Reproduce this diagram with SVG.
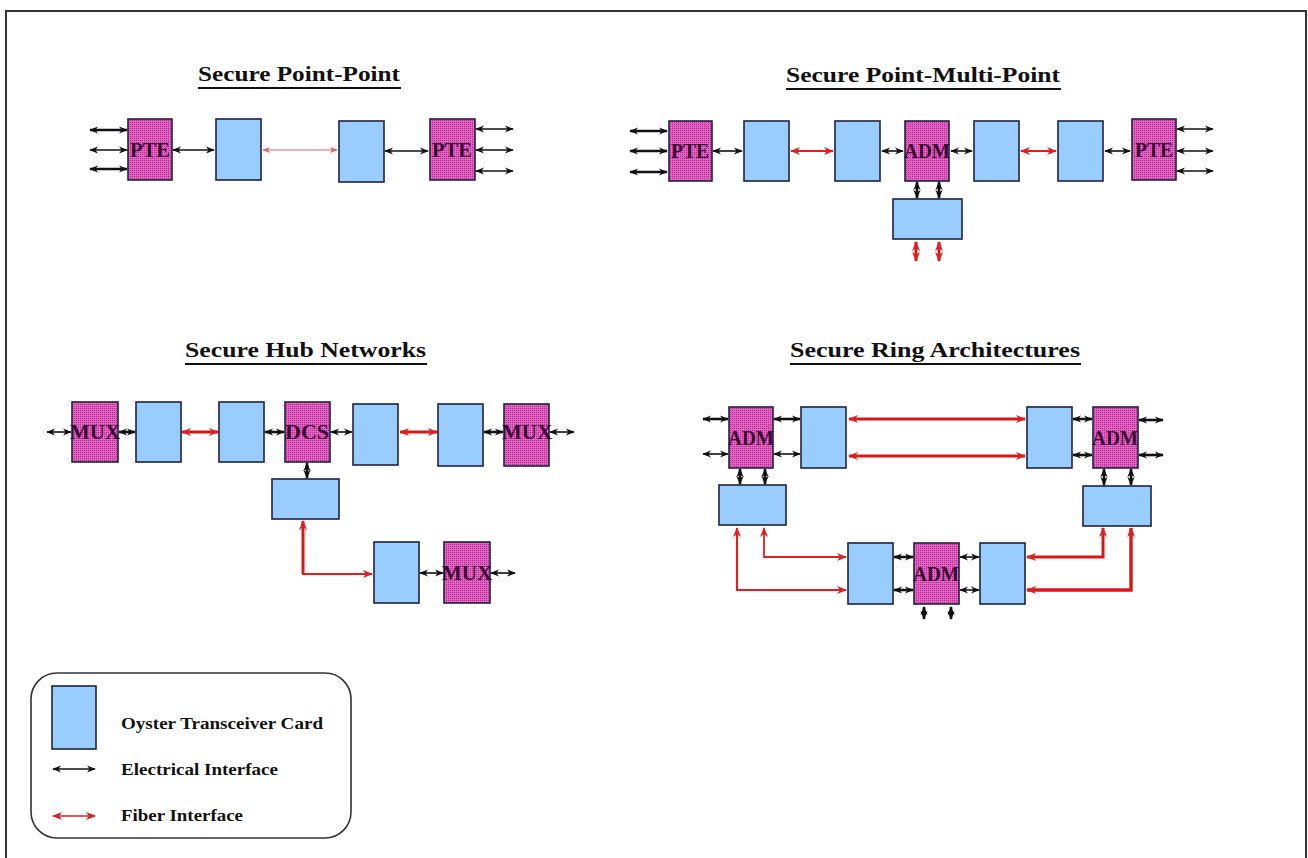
<svg xmlns="http://www.w3.org/2000/svg" width="1308" height="858" viewBox="0 0 1308 858">
<style>
.blue{fill:#99ccff;stroke:#1e2240;stroke-width:1.6}
.pink{fill:url(#hatch);stroke:#1e2240;stroke-width:1.6}
.lbl{font-family:"Liberation Serif","Times New Roman",serif;font-weight:bold;font-size:21px;fill:#3a0030;text-anchor:middle}
.title{font-family:"Liberation Serif","Times New Roman",serif;font-weight:bold;font-size:21px;fill:#111}
.leg{font-family:"Liberation Serif","Times New Roman",serif;font-weight:bold;font-size:17px;fill:#111}
.ul{stroke:#111;stroke-width:2}
.e{stroke:#111;stroke-width:1.6;fill:none;marker-start:url(#ab);marker-end:url(#ab)}
.et{stroke:#111;stroke-width:2.6;fill:none;marker-start:url(#ab);marker-end:url(#ab)}
.f{stroke:#e02020;stroke-width:2.2;fill:none;marker-start:url(#ar);marker-end:url(#ar)}
.ft{stroke:#d81818;stroke-width:3;fill:none;marker-start:url(#ar);marker-end:url(#ar)}
.fthin{stroke:#e06060;stroke-width:1.2;fill:none;marker-start:url(#arl);marker-end:url(#arl)}
</style>
<defs>
<pattern id="hatch" width="2" height="2" patternUnits="userSpaceOnUse">
<rect width="2" height="2" fill="#e862c6"/>
<rect width="1" height="1" fill="#a42c8a"/>
</pattern>
<marker id="ab" viewBox="0 0 10 10" refX="9" refY="5" markerWidth="9" markerHeight="9" markerUnits="userSpaceOnUse" orient="auto-start-reverse">
<path d="M0,1 L10,5 L0,9 L3,5 z" fill="#111"/>
</marker>
<marker id="ar" viewBox="0 0 10 10" refX="9" refY="5" markerWidth="10" markerHeight="10" markerUnits="userSpaceOnUse" orient="auto-start-reverse">
<path d="M0,1 L10,5 L0,9 L3,5 z" fill="#e02020"/>
</marker>
<marker id="arl" viewBox="0 0 10 10" refX="9" refY="5" markerWidth="8" markerHeight="8" markerUnits="userSpaceOnUse" orient="auto-start-reverse">
<path d="M0,1 L10,5 L0,9 L3,5 z" fill="#e06060"/>
</marker>
</defs>
<rect x="0" y="0" width="1308" height="858" fill="#fff"/>
<rect x="6" y="11" width="1300" height="860" fill="none" stroke="#333" stroke-width="2"/>

<!-- Titles -->
<g id="titles">
<text class="title" x="198" y="81" textLength="202" lengthAdjust="spacingAndGlyphs">Secure Point-Point</text>
<line class="ul" x1="198" y1="88" x2="401" y2="88"/>
<text class="title" x="786" y="82" textLength="274" lengthAdjust="spacingAndGlyphs">Secure Point-Multi-Point</text>
<line class="ul" x1="786" y1="89" x2="1061" y2="89"/>
<text class="title" x="185" y="357" textLength="241" lengthAdjust="spacingAndGlyphs">Secure Hub Networks</text>
<line class="ul" x1="185" y1="364" x2="427" y2="364"/>
<text class="title" x="790" y="357" textLength="290" lengthAdjust="spacingAndGlyphs">Secure Ring Architectures</text>
<line class="ul" x1="790" y1="364" x2="1081" y2="364"/>
</g>

<!-- Connectors -->
<g id="connectors">
<!-- Section 1 -->
<line class="et" x1="90" y1="130" x2="127" y2="130"/>
<line class="e" x1="90" y1="150" x2="127" y2="150"/>
<line class="et" x1="90" y1="169" x2="127" y2="169"/>
<line class="e" x1="173" y1="150" x2="214" y2="150"/>
<line class="fthin" x1="263" y1="150" x2="337" y2="150"/>
<line class="e" x1="385" y1="151" x2="428" y2="151"/>
<line class="e" x1="476" y1="129" x2="513" y2="129"/>
<line class="e" x1="476" y1="150" x2="513" y2="150"/>
<line class="e" x1="476" y1="171" x2="513" y2="171"/>
<!-- Section 2 -->
<line class="et" x1="630" y1="131" x2="667" y2="131"/>
<line class="et" x1="630" y1="151" x2="667" y2="151"/>
<line class="et" x1="630" y1="172" x2="667" y2="172"/>
<line class="e" x1="713" y1="151" x2="742" y2="151"/>
<line class="f" x1="791" y1="151" x2="833" y2="151"/>
<line class="e" x1="882" y1="151" x2="903" y2="151"/>
<line class="e" x1="951" y1="151" x2="972" y2="151"/>
<line class="f" x1="1021" y1="151" x2="1056" y2="151"/>
<line class="e" x1="1105" y1="151" x2="1130" y2="151"/>
<line class="e" x1="1177" y1="129" x2="1213" y2="129"/>
<line class="e" x1="1177" y1="151" x2="1213" y2="151"/>
<line class="e" x1="1177" y1="171" x2="1213" y2="171"/>
<line class="et" x1="917" y1="182" x2="917" y2="198"/>
<line class="et" x1="939" y1="182" x2="939" y2="198"/>
<line class="ft" x1="916" y1="242" x2="916" y2="261"/>
<line class="ft" x1="939" y1="242" x2="939" y2="261"/>
<!-- Section 3 -->
<line class="e" x1="47" y1="432" x2="71" y2="432"/>
<line class="et" x1="119" y1="432" x2="135" y2="432"/>
<line class="ft" x1="182" y1="432" x2="218" y2="432"/>
<line class="et" x1="265" y1="432" x2="284" y2="432"/>
<line class="e" x1="331" y1="432" x2="352" y2="432"/>
<line class="ft" x1="400" y1="432" x2="437" y2="432"/>
<line class="et" x1="484" y1="432" x2="503" y2="432"/>
<line class="e" x1="550" y1="432" x2="574" y2="432"/>
<line class="et" x1="307" y1="463" x2="307" y2="478"/>
<path d="M303,574 V521" stroke="#d81818" stroke-width="3" fill="none" marker-end="url(#ar)"/>
<path d="M302,574 H372" stroke="#e02020" stroke-width="1.8" fill="none" marker-end="url(#ar)"/>
<line class="e" x1="420" y1="573" x2="443" y2="573"/>
<line class="e" x1="491" y1="573" x2="515" y2="573"/>
<!-- Section 4 -->
<line class="et" x1="703" y1="419" x2="728" y2="419"/>
<line class="e" x1="703" y1="454" x2="728" y2="454"/>
<line class="et" x1="774" y1="419" x2="800" y2="419"/>
<line class="e" x1="774" y1="454" x2="800" y2="454"/>
<line class="ft" x1="849" y1="419" x2="1025" y2="419"/>
<line class="ft" x1="849" y1="456" x2="1025" y2="456"/>
<line class="et" x1="1073" y1="419" x2="1092" y2="419"/>
<line class="et" x1="1073" y1="455" x2="1092" y2="455"/>
<line class="et" x1="1139" y1="420" x2="1163" y2="420"/>
<line class="et" x1="1139" y1="455" x2="1163" y2="455"/>
<line class="et" x1="740" y1="469" x2="740" y2="484"/>
<line class="et" x1="765" y1="469" x2="765" y2="484"/>
<line class="et" x1="1104" y1="469" x2="1104" y2="485"/>
<line class="et" x1="1131" y1="469" x2="1131" y2="485"/>
<line class="et" x1="894" y1="557" x2="913" y2="557"/>
<line class="et" x1="894" y1="590" x2="913" y2="590"/>
<line class="e" x1="960" y1="557" x2="979" y2="557"/>
<line class="e" x1="960" y1="590" x2="979" y2="590"/>
<line class="et" x1="924" y1="607" x2="924" y2="619"/>
<line class="et" x1="951" y1="607" x2="951" y2="619"/>
<path class="f" d="M737,528 V590 H846"/>
<path class="f" d="M764,528 V557 H846" style="stroke-width:1.8"/>
<path class="ft" d="M1027,557 H1103 V528"/>
<path class="ft" d="M1027,590 H1131 V528" style="stroke-width:3.4"/>
</g>

<!-- Section 1 nodes -->
<g id="pp-pte1"><rect class="pink" x="128" y="119" width="44" height="61"/><text class="lbl" x="150" y="157" textLength="40" lengthAdjust="spacingAndGlyphs">PTE</text></g>
<g id="pp-card1"><rect class="blue" x="216" y="119" width="45" height="61"/></g>
<g id="pp-card2"><rect class="blue" x="339" y="121" width="45" height="61"/></g>
<g id="pp-pte2"><rect class="pink" x="430" y="119" width="45" height="61"/><text class="lbl" x="452" y="157" textLength="40" lengthAdjust="spacingAndGlyphs">PTE</text></g>

<!-- Section 2 nodes -->
<g id="pmp-pte1"><rect class="pink" x="669" y="121" width="43" height="60"/><text class="lbl" x="690" y="158" textLength="38" lengthAdjust="spacingAndGlyphs">PTE</text></g>
<g id="pmp-card1"><rect class="blue" x="744" y="121" width="45" height="60"/></g>
<g id="pmp-card2"><rect class="blue" x="835" y="121" width="45" height="60"/></g>
<g id="pmp-adm"><rect class="pink" x="905" y="121" width="44" height="60"/><text class="lbl" x="927" y="158" textLength="46" lengthAdjust="spacingAndGlyphs">ADM</text></g>
<g id="pmp-card3"><rect class="blue" x="974" y="121" width="45" height="60"/></g>
<g id="pmp-card4"><rect class="blue" x="1058" y="121" width="45" height="60"/></g>
<g id="pmp-pte2"><rect class="pink" x="1132" y="119" width="44" height="61"/><text class="lbl" x="1154" y="157" textLength="38" lengthAdjust="spacingAndGlyphs">PTE</text></g>
<g id="pmp-card5"><rect class="blue" x="893" y="199" width="69" height="40"/></g>

<!-- Section 3 nodes -->
<g id="hub-mux1"><rect class="pink" x="72" y="402" width="46" height="60"/><text class="lbl" x="95" y="439" textLength="50" lengthAdjust="spacingAndGlyphs">MUX</text></g>
<g id="hub-card1"><rect class="blue" x="136" y="402" width="45" height="60"/></g>
<g id="hub-card2"><rect class="blue" x="219" y="402" width="45" height="60"/></g>
<g id="hub-dcs"><rect class="pink" x="285" y="402" width="45" height="60"/><text class="lbl" x="307" y="439" textLength="44" lengthAdjust="spacingAndGlyphs">DCS</text></g>
<g id="hub-card3"><rect class="blue" x="353" y="404" width="45" height="61"/></g>
<g id="hub-card4"><rect class="blue" x="438" y="404" width="45" height="62"/></g>
<g id="hub-mux2"><rect class="pink" x="504" y="404" width="45" height="62"/><text class="lbl" x="527" y="439" textLength="50" lengthAdjust="spacingAndGlyphs">MUX</text></g>
<g id="hub-card5"><rect class="blue" x="272" y="479" width="67" height="40"/></g>
<g id="hub-card6"><rect class="blue" x="374" y="542" width="45" height="61"/></g>
<g id="hub-mux3"><rect class="pink" x="444" y="542" width="46" height="61"/><text class="lbl" x="467" y="580" textLength="50" lengthAdjust="spacingAndGlyphs">MUX</text></g>

<!-- Section 4 nodes -->
<g id="ring-adm1"><rect class="pink" x="729" y="407" width="44" height="61"/><text class="lbl" x="751" y="445" textLength="46" lengthAdjust="spacingAndGlyphs">ADM</text></g>
<g id="ring-card1"><rect class="blue" x="801" y="407" width="45" height="61"/></g>
<g id="ring-card2"><rect class="blue" x="1027" y="407" width="45" height="61"/></g>
<g id="ring-adm2"><rect class="pink" x="1093" y="407" width="45" height="61"/><text class="lbl" x="1115" y="445" textLength="46" lengthAdjust="spacingAndGlyphs">ADM</text></g>
<g id="ring-card3"><rect class="blue" x="719" y="485" width="67" height="40"/></g>
<g id="ring-card4"><rect class="blue" x="1083" y="486" width="68" height="40"/></g>
<g id="ring-card5"><rect class="blue" x="848" y="543" width="45" height="61"/></g>
<g id="ring-adm3"><rect class="pink" x="914" y="543" width="45" height="61"/><text class="lbl" x="936" y="581" textLength="46" lengthAdjust="spacingAndGlyphs">ADM</text></g>
<g id="ring-card6"><rect class="blue" x="980" y="543" width="45" height="61"/></g>

<!-- Legend -->
<g id="legend">
<rect x="31" y="673" width="320" height="165" rx="26" ry="26" fill="none" stroke="#333" stroke-width="1.6"/>
<rect class="blue" x="52" y="686" width="44" height="63"/>
<text class="leg" x="121" y="729" textLength="202" lengthAdjust="spacingAndGlyphs">Oyster Transceiver Card</text>
<line class="e" x1="53" y1="769" x2="95" y2="769"/>
<text class="leg" x="121" y="775" textLength="157" lengthAdjust="spacingAndGlyphs">Electrical Interface</text>
<line x1="53" y1="816" x2="95" y2="816" stroke="#e02020" stroke-width="1.6" marker-start="url(#ar)" marker-end="url(#ar)"/>
<text class="leg" x="121" y="821" textLength="122" lengthAdjust="spacingAndGlyphs">Fiber Interface</text>
</g>
</svg>
